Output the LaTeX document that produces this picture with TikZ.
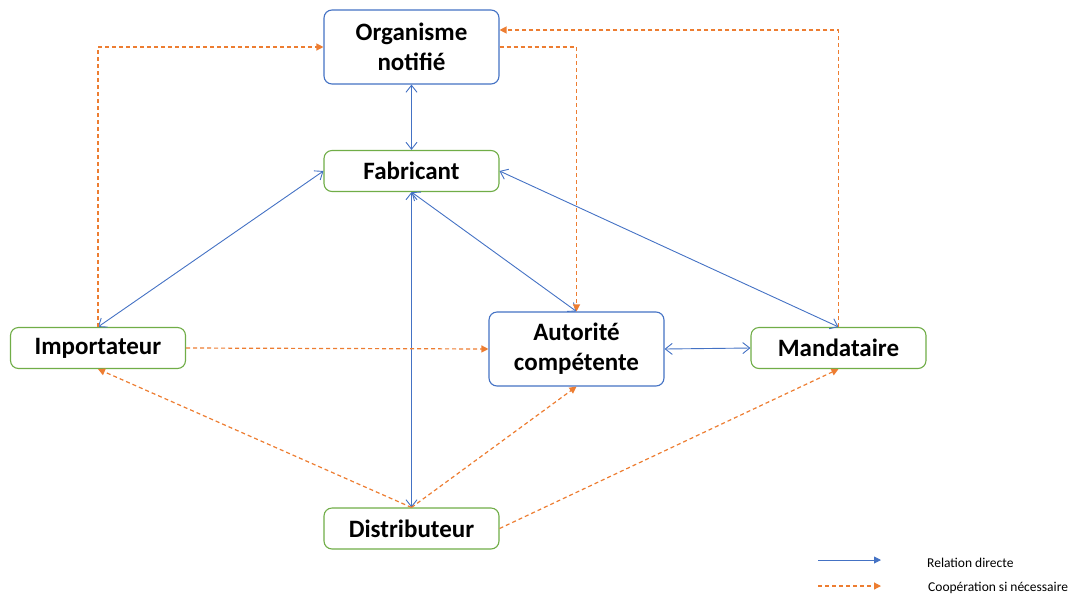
\documentclass[tikz,border=0pt]{standalone}
\usepackage{fontspec}
\setmainfont{Carlito}
\usetikzlibrary{arrows.meta}
\definecolor{cblue}{HTML}{4472C4}
\definecolor{corange}{HTML}{ED7D31}
\definecolor{cgreen}{HTML}{70AD47}
\tikzset{
  box/.style={rounded corners=8pt, line width=1.1pt, fill=white, align=center, inner sep=0pt,
    font=\bfseries\fontsize{25}{30}\selectfont, minimum width=175pt},
  bluebox/.style={box, draw=cblue},
  greenbox/.style={box, draw=cgreen, minimum height=41pt},
  rel/.style={draw=cblue, line width=0.9pt, {Straight Barb[length=7pt,width=11pt,line width=0.9pt]}-{Straight Barb[length=7pt,width=11pt,line width=0.9pt]}},
  coop/.style={draw=corange, line width=1.2pt, dash pattern=on 4pt off 3pt, -{Triangle[length=7pt,width=7pt]}},
  legtext/.style={font=\fontsize{13.5}{16}\selectfont, anchor=west, inner sep=0pt}
}
\begin{document}
\begin{tikzpicture}[x=1pt,y=-1pt]
\useasboundingbox (0,0) rectangle (1081,595);
\node[bluebox, minimum height=74pt] (org) at (411.5,47) {Organisme\\notifié};
\node[greenbox] (fab) at (411.5,171) {Fabricant};
\node[greenbox] (imp) at (98,348) {Importateur};
\node[bluebox, minimum height=74pt] (aut) at (576.5,349) {Autorité\\compétente};
\node[greenbox] (man) at (838.5,348) {Mandataire};
\node[greenbox] (dis) at (411.5,528.5) {Distributeur};

% direct relations
\draw[rel] (org.south) -- (fab.north);
\draw[rel] (fab.west) -- (imp.north);
\draw[rel] (fab.south) -- (dis.north);
\draw[rel] (fab.south) -- (aut.north);
\draw[rel] (fab.east) -- (man.north);
\draw[rel] (aut.east) -- (man.west);

% cooperation
\draw[coop] (imp.north) -- (imp.north |- org.west) -- (org.west);
\draw[coop] (org.east) -- (org.east -| aut.north) -- (aut.north);
\coordinate (orgr) at ([yshift=17pt]org.east);
\draw[coop] (man.north) -- (man.north |- orgr) -- (orgr);
\draw[coop] (imp.east) -- (aut.west);
\draw[coop] (dis.north) -- (imp.south);
\draw[coop] (dis.north) -- (aut.south);
\draw[coop] (dis.east) -- (man.south);

% legend
\coordinate (l1a) at (818,560);
\coordinate (l1b) at (881,560);
\coordinate (l2a) at (818,586);
\coordinate (l2b) at (881,586);
\draw[draw=cblue, line width=0.9pt, -{Triangle[length=7pt,width=7pt]}] (l1a) -- (l1b);
\draw[coop] (l2a) -- (l2b);
\node[legtext] (t1) at (927,563) {Relation directe};
\node[legtext] (t2) at (928,588) {Coopération si nécessaire};
\end{tikzpicture}
\end{document}
